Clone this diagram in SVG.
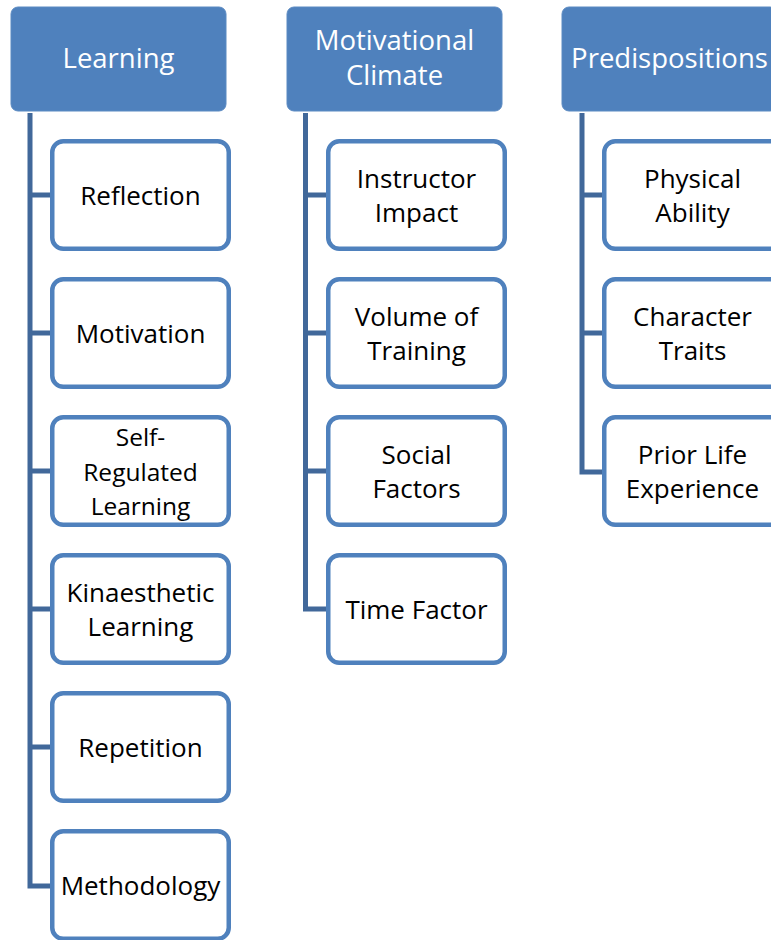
<svg xmlns="http://www.w3.org/2000/svg" width="771" height="940" viewBox="0 0 771 940">
<style>
.hdr{fill:#4F81BD;stroke:#5B8AC2;stroke-width:1}
.child{fill:#FFFFFF;stroke:#4F81BD;stroke-width:4.5}
.conn{stroke:#41689A;stroke-width:5;fill:none;stroke-linejoin:miter}
.ht{fill:#FFFFFF;font-family:"Open Sans","Liberation Sans",sans-serif;font-size:27.5px;text-anchor:middle}
.ct{fill:#000000;font-family:"Open Sans","Liberation Sans",sans-serif;font-size:26px;text-anchor:middle}
.ct3{font-size:24.5px}
</style>
<rect width="771" height="940" fill="#FFFFFF"/>
<g id="connectors">
<path class="conn" d="M30,113 V886 H52 M30,195 H52 M30,333 H52 M30,471 H52 M30,609 H52 M30,747 H52"/>
<path class="conn" d="M305.5,113 V609 H328 M305.5,195 H328 M305.5,333 H328 M305.5,471 H328"/>
<path class="conn" d="M582,113 V472 H604 M582,195 H604 M582,333 H604"/>
</g>
<g id="learning"><rect class="hdr" x="11" y="7" width="215" height="104" rx="7"/><text class="ht" x="118.5" y="68">Learning</text></g>
<g id="motivational-climate"><rect class="hdr" x="287" y="7" width="215" height="104" rx="7"/><text class="ht" x="394.5" y="50">Motivational</text><text class="ht" x="394.5" y="85">Climate</text></g>
<g id="predispositions"><rect class="hdr" x="562" y="7" width="215" height="104" rx="7"/><text class="ht" x="669.5" y="68">Predispositions</text></g>

<g id="reflection"><rect class="child" x="52.25" y="141.25" width="176.5" height="107.5" rx="11"/><text class="ct" x="140.5" y="205">Reflection</text></g>
<g id="motivation"><rect class="child" x="52.25" y="279.25" width="176.5" height="107.5" rx="11"/><text class="ct" x="140.5" y="343">Motivation</text></g>
<g id="self-regulated-learning"><rect class="child" x="52.25" y="417.25" width="176.5" height="107.5" rx="11"/><text class="ct ct3" x="140.5" y="446">Self-</text><text class="ct ct3" x="140.5" y="480.5">Regulated</text><text class="ct ct3" x="140.5" y="515">Learning</text></g>
<g id="kinaesthetic-learning"><rect class="child" x="52.25" y="555.25" width="176.5" height="107.5" rx="11"/><text class="ct" x="140.5" y="602">Kinaesthetic</text><text class="ct" x="140.5" y="636">Learning</text></g>
<g id="repetition"><rect class="child" x="52.25" y="693.25" width="176.5" height="107.5" rx="11"/><text class="ct" x="140.5" y="757">Repetition</text></g>
<g id="methodology"><rect class="child" x="52.25" y="831.25" width="176.5" height="107.5" rx="11"/><text class="ct" x="140.5" y="895">Methodology</text></g>

<g id="instructor-impact"><rect class="child" x="328.25" y="141.25" width="176.5" height="107.5" rx="11"/><text class="ct" x="416.5" y="188">Instructor</text><text class="ct" x="416.5" y="222">Impact</text></g>
<g id="volume-of-training"><rect class="child" x="328.25" y="279.25" width="176.5" height="107.5" rx="11"/><text class="ct" x="416.5" y="326">Volume of</text><text class="ct" x="416.5" y="360">Training</text></g>
<g id="social-factors"><rect class="child" x="328.25" y="417.25" width="176.5" height="107.5" rx="11"/><text class="ct" x="416.5" y="464">Social</text><text class="ct" x="416.5" y="498">Factors</text></g>
<g id="time-factor"><rect class="child" x="328.25" y="555.25" width="176.5" height="107.5" rx="11"/><text class="ct" x="416.5" y="619">Time Factor</text></g>

<g id="physical-ability"><rect class="child" x="604.25" y="141.25" width="176.5" height="107.5" rx="11"/><text class="ct" x="692.5" y="188">Physical</text><text class="ct" x="692.5" y="222">Ability</text></g>
<g id="character-traits"><rect class="child" x="604.25" y="279.25" width="176.5" height="107.5" rx="11"/><text class="ct" x="692.5" y="326">Character</text><text class="ct" x="692.5" y="360">Traits</text></g>
<g id="prior-life-experience"><rect class="child" x="604.25" y="417.25" width="176.5" height="107.5" rx="11"/><text class="ct" x="692.5" y="464">Prior Life</text><text class="ct" x="692.5" y="498">Experience</text></g>
</svg>
